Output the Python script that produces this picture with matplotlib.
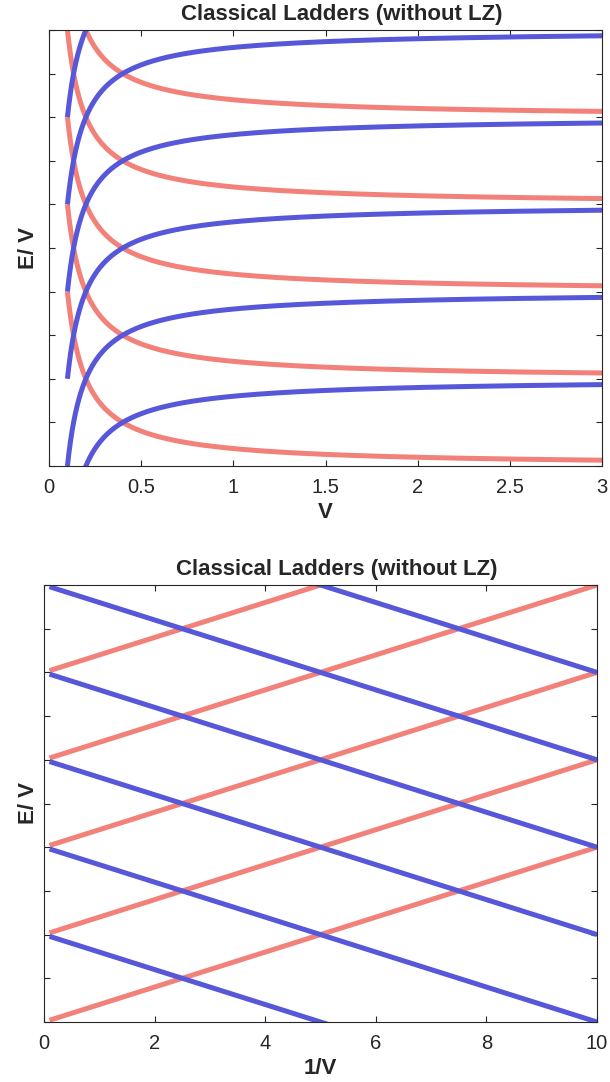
import numpy as np
import matplotlib
matplotlib.use("Agg")
import matplotlib.pyplot as plt

plt.rcParams['font.family'] = ['Liberation Sans', 'DejaVu Sans']

# Ladder definitions: E = n*V + shift (upper ladder) and E = m*V - shift (lower ladder)
red_levels = [0, 1, 2, 3, 4]
blue_levels = [1, 2, 3, 4, 5, 6]
shift = 0.2
v_min, v_max = 0.1, 10.0

title_text = "Classical Ladders (without LZ)"
top_xticks = [0, 0.5, 1, 1.5, 2, 2.5, 3]
top_xticklabels = ["0", "0.5", "1", "1.5", "2", "2.5", "3"]
bottom_xticks = [0, 2, 4, 6, 8, 10]
bottom_xticklabels = ["0", "2", "4", "6", "8", "10"]
yticks = [0, 0.5, 1, 1.5, 2, 2.5, 3, 3.5, 4, 4.5, 5]

RED = '#F2817A'
BLUE = '#5757D9'
INK = '#262626'

V = np.concatenate([np.linspace(v_min, 1.0, 600), np.linspace(1.0, v_max, 600)[1:]])

W, H = 610, 1082
fig = plt.figure(figsize=(W / 100, H / 100), dpi=100)


def box(l, t, r, b):
    return [l / W, 1 - b / H, (r - l) / W, (b - t) / H]


ax_top = fig.add_axes(box(49, 30, 602, 466))
ax_bot = fig.add_axes(box(44, 585, 597, 1022))


def style(ax, xt, xtl, xlabel, left, bottom, top):
    ax.set_xticks(xt)
    ax.set_xticklabels(xtl)
    ax.set_yticks(yticks)
    ax.set_yticklabels([])
    ax.tick_params(direction='in', length=4.5, width=0.8, top=True, right=True,
                   labelsize=14.5, colors=INK, pad=8.5)
    for s in ax.spines.values():
        s.set_color(INK)
        s.set_linewidth(0.8)
    w = 553.0
    h = bottom - top
    ax.text(0.5 + 16 / w, 1 + 5 / h, title_text, transform=ax.transAxes,
            ha='center', va='bottom', fontsize=16, fontweight='bold', color=INK)
    ax.set_xlabel(xlabel, fontsize=16, fontweight='bold', color=INK, va='center')
    ax.xaxis.set_label_coords(0.5, -(46.0 / h))
    ax.set_ylabel("E/ V", fontsize=16, fontweight='bold', color=INK, va='center')
    ax.yaxis.set_label_coords((29 - left) / w, 0.5)


# Upper plot: E/V against V
for n in red_levels:
    ax_top.plot(V, n + shift / V, color=RED, lw=3.6, solid_capstyle='butt')
for m in blue_levels:
    ax_top.plot(V, m - shift / V, color=BLUE, lw=3.6, solid_capstyle='butt')
ax_top.set_xlim(0, 3)
ax_top.set_ylim(0, 5)
style(ax_top, top_xticks, top_xticklabels, "V", 49, 466, 30)

# Lower plot: E/V against 1/V
for n in red_levels:
    ax_bot.plot(1 / V, n + shift / V, color=RED, lw=3.6, solid_capstyle='butt')
for m in blue_levels:
    ax_bot.plot(1 / V, m - shift / V, color=BLUE, lw=3.6, solid_capstyle='butt')
ax_bot.set_xlim(0, 10)
ax_bot.set_ylim(0, 5)
style(ax_bot, bottom_xticks, bottom_xticklabels, "1/V", 44, 1022, 585)

fig.savefig("out.png", dpi=100)
